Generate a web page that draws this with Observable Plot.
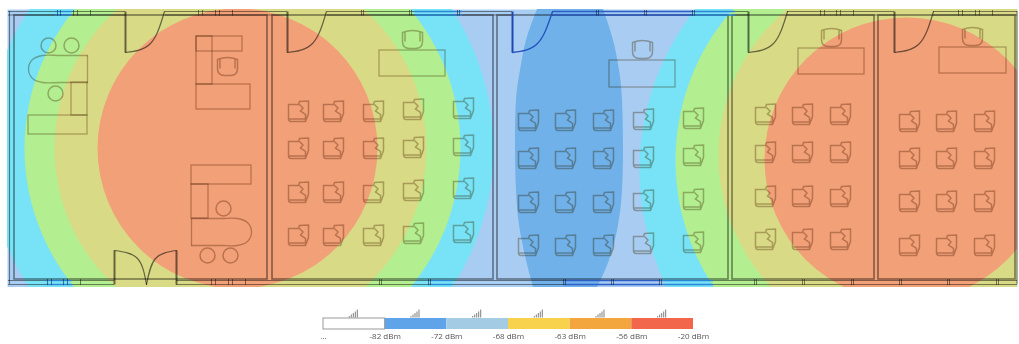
<!DOCTYPE html>
<html>
<head>
<meta charset="utf-8">
<style>
  html, body { margin: 0; padding: 0; background: #fff; overflow: hidden; }
  #chart svg, #legend svg { display: block; filter: blur(0.6px); }
</style>
<script src="https://cdn.jsdelivr.net/npm/d3@7"></script>
<script src="https://cdn.jsdelivr.net/npm/@observablehq/plot@0.6"></script>
</head>
<body>
<div id="chart"></div>
<div id="legend"></div>
<script>
// ---- signal zones (floor-plan units) ----
const zoneColors = {cyan: "#78e2f6", green: "#b3ee90", yellow: "#d9da85", red: "#f2a077"};
const zones = [
  {x: 240, y: 148, r: 253, level: "cyan"},
  {x: 242, y: 148, r: 218, level: "green"},
  {x: 240, y: 148, r: 186, level: "yellow"},
  {x: 237, y: 148, r: 140, level: "red"},
  {x: 900, y: 170, r: 261, level: "cyan"},
  {x: 903, y: 160, r: 228, level: "green"},
  {x: 908, y: 155, r: 190, level: "yellow"},
  {x: 906, y: 159, r: 142, level: "red"}
];
const lensY = [9, 40, 70, 100, 148, 190, 225, 260, 287];
const lensLeft = [537, 526, 520, 516, 515, 516, 519, 526, 533];
const lensRight = [603, 613, 619, 622, 623, 622, 618, 609, 597];

// ---- building ----
const rooms = [[14, 15, 267, 279], [272, 15, 493, 279], [497, 15, 728, 279], [732, 15, 874, 279], [878, 15, 1015, 279]];
const topWall = [[8, 125], [165, 287], [327, 512], [552, 748], [787, 894], [933, 1017]];
const bottomWall = [[8, 114], [176, 1017]];
const blueTop = [[553, 693]];
const blueBottom = [[564, 660]];
const cyanTop = [[55, 72], [415, 462], [693, 735]];
const cyanBottom = [[45, 72], [428, 452], [660, 713]];
const windowTop = [57, 60, 73, 77, 90, 198, 202, 215, 219, 232, 361, 363, 409, 411, 457, 459, 596, 598, 644, 646, 692, 694, 820, 824, 836, 840, 853, 958, 962, 975, 979, 992];
const windowBottom = [47, 51, 63, 67, 80, 211, 215, 228, 232, 245, 379, 381, 428, 430, 563, 565, 611, 613, 659, 661, 754, 756, 802, 804, 851, 853, 899, 901, 947, 949, 996, 998];
const doorLeaves = [
  [125, 11, 125, 52], [287, 11, 287, 52], [748, 11, 748, 52], [894, 11, 894, 52],
  [114, 250, 114, 284], [176, 250, 176, 284]
];
const blueDoorLeaf = [[512, 11, 512, 52]];
const doorArcs = [
  [[125, 52], [150, 43], [164, 11]],
  [[287, 52], [312, 43], [326, 11]],
  [[748, 52], [773, 43], [787, 11]],
  [[894, 52], [919, 43], [933, 11]],
  [[114, 250], [137, 258], [146, 284]],
  [[176, 250], [155, 258], [146, 284]]
];
const blueDoorArc = [[512, 52], [537, 43], [552, 11]];

// ---- furniture ----
const desks = [
  [28, 115, 87, 134], [71, 82, 87, 115],
  [196, 36, 242, 51], [196, 36, 212, 84], [196, 84, 250, 109],
  [191, 165, 251, 184], [191, 184, 208, 218],
  [379, 50, 445, 76], [609, 60, 675, 87], [798, 48, 864, 74], [939, 47, 1006, 73]
];
const roundDesks = [
  [[87, 55], [60, 55], [42, 55], [32, 59], [28, 68.5], [32, 78], [42, 82], [60, 82], [87, 82]],
  [[191, 218], [220, 218], [237, 218], [247, 222], [251, 231.5], [247, 241], [237, 245], [220, 245], [191, 245]]
];
const roundDeskEdges = [[87, 55, 87, 82], [191, 218, 191, 245]];
const roundStools = [[48, 45], [71, 45], [55, 93], [223, 208], [207, 255], [230, 255]];
const deskChairs = [[227, 65], [412, 38], [642, 48], [831, 36], [972, 35]];

const chairColsRoom2 = [
  [298, [111, 148, 192, 235]], [333, [111, 148, 192, 235]], [373, [111, 148, 192, 235]],
  [413, [109, 147, 190, 233]], [463, [108, 145, 188, 232]]
];
const chairColsRoom3 = [
  [528, [120, 158, 202, 245]], [565, [120, 158, 202, 245]], [603, [120, 158, 202, 245]],
  [643, [119, 157, 200, 243]], [693, [118, 155, 199, 242]]
];
const chairColsRoom4 = [[765, [114, 152, 196, 239]], [802, [114, 152, 196, 239]], [840, [114, 152, 196, 239]]];
const chairColsRoom5 = [[909, [121, 158, 201, 245]], [946, [121, 158, 201, 245]], [984, [121, 158, 201, 245]]];
const chairCols = [...chairColsRoom2, ...chairColsRoom3, ...chairColsRoom4, ...chairColsRoom5];
const chairs = chairCols.flatMap(([x, ys]) => ys.map((y) => [x, y]));

// ---- legend ----
const legendColors = ["#ffffff", "#5fa4e9", "#a4cbe4", "#f8d24c", "#f4a63e", "#f2664b"];
const legendLabels = ["...", "-82 dBm", "-72 dBm", "-68 dBm", "-63 dBm", "-56 dBm", "-20 dBm"];

// ---- glyphs ----
const chairSymbol = {draw(c) {
  c.moveTo(-10, -7); c.lineTo(0, -7); c.lineTo(1, -10); c.lineTo(10, -10.5); c.lineTo(10, 2); c.lineTo(7, 10);
  c.lineTo(-8, 10); c.quadraticCurveTo(-10, 9.5, -10, 7); c.closePath();
  c.moveTo(1, -7); c.lineTo(4.5, -3.5); c.lineTo(2, -0.5); c.lineTo(7, 3); c.lineTo(7, 10);
  c.moveTo(-10, 7.5); c.lineTo(7, 7.5);
}};
const deskChairSymbol = {draw(c) {
  c.moveTo(-10, -6); c.quadraticCurveTo(0, -10, 10, -6); c.lineTo(10, 3);
  c.quadraticCurveTo(10, 10, 3, 10); c.lineTo(-3, 10); c.quadraticCurveTo(-10, 10, -10, 3); c.closePath();
  c.moveTo(-7.5, -6); c.lineTo(-7.5, 3); c.moveTo(7.5, -6); c.lineTo(7.5, 3);
}};
const signalSymbol = {draw(c) {
  [[-5, 1.5], [-3, 3], [-1, 4.5], [1, 6], [3, 8]].forEach(([x, h]) => {
    c.moveTo(x, 4); c.lineTo(x, 4 - h);
  });
}};

const wallInk = "#8c8c8c";
const doorInk = "#757575";
const furnitureInk = "#c4b6a6";
const ink = {mixBlendMode: "multiply", fill: "none"};
const wallRules = (rows, level, stroke, strokeWidth, extra = {}) =>
  Plot.ruleY(rows, {y: () => level, x1: "0", x2: "1", fill: "none", stroke, strokeWidth, ...extra});

const plan = Plot.plot({
  width: 1019, height: 287,
  marginLeft: 7, marginRight: 2, marginTop: 9, marginBottom: 0,
  x: {domain: [7, 1017], range: [7, 1017], axis: null},
  y: {domain: [9, 287], range: [9, 287], axis: null},
  style: {background: "transparent"},
  marks: [
    Plot.frame({fill: "#a9cdf2", stroke: "none"}),
    Plot.areaX(lensY, {
      y: (d) => d,
      x1: (d, i) => lensLeft[i],
      x2: (d, i) => lensRight[i],
      fill: "#70b1e9",
      curve: "natural"
    }),
    ...zones.map((z) => Plot.dot([z], {x: "x", y: "y", r: z.r, fill: zoneColors[z.level], stroke: "none", clip: true})),

    // walls
    Plot.rect(rooms, {x1: "0", y1: "1", x2: "2", y2: "3", ...ink, stroke: wallInk, strokeWidth: 1.6}),
    ...[11, 14.5].map((y) => wallRules(topWall, y, wallInk, 1.2, {mixBlendMode: "multiply"})),
    ...[280, 284].map((y) => wallRules(bottomWall, y, wallInk, 1.2, {mixBlendMode: "multiply"})),
    Plot.ruleX([9, 1016.5], {y1: 11, y2: 284, ...ink, stroke: wallInk, strokeWidth: 1.1}),
    ...[11, 14.5].map((y) => wallRules(cyanTop, y, "#2c86d6", 1.3)),
    ...[280, 284].map((y) => wallRules(cyanBottom, y, "#2c86d6", 1.3)),
    ...[11, 14.5].map((y) => wallRules(blueTop, y, "#2e5fc8", 1.6)),
    ...[280, 284].map((y) => wallRules(blueBottom, y, "#2e5fc8", 1.6)),
    Plot.ruleX(windowTop, {y1: 10, y2: 15.5, ...ink, stroke: wallInk, strokeWidth: 1}),
    Plot.ruleX(windowBottom, {y1: 279, y2: 285, ...ink, stroke: wallInk, strokeWidth: 1}),
    Plot.link(doorLeaves, {x1: "0", y1: "1", x2: "2", y2: "3", ...ink, stroke: doorInk, strokeWidth: 2}),
    Plot.link(blueDoorLeaf, {x1: "0", y1: "1", x2: "2", y2: "3", stroke: "#1c46b4", strokeWidth: 2}),
    ...doorArcs.map((arc) => Plot.line(arc, {x: "0", y: "1", ...ink, stroke: doorInk, strokeWidth: 1.2, curve: "natural"})),
    Plot.line(blueDoorArc, {x: "0", y: "1", fill: "none", stroke: "#2450bd", strokeWidth: 1.3, curve: "natural"}),

    // furniture
    Plot.rect(desks, {x1: "0", y1: "1", x2: "2", y2: "3", ...ink, stroke: furnitureInk, strokeWidth: 1.3}),
    ...roundDesks.map((d) => Plot.line(d, {x: "0", y: "1", ...ink, stroke: furnitureInk, strokeWidth: 1.3, curve: "catmull-rom"})),
    Plot.link(roundDeskEdges, {x1: "0", y1: "1", x2: "2", y2: "3", ...ink, stroke: furnitureInk, strokeWidth: 1.3}),
    Plot.dot(roundStools, {x: "0", y: "1", r: 7.5, ...ink, stroke: furnitureInk, strokeWidth: 1.5}),
    Plot.dot(deskChairs, {x: "0", y: "1", symbol: deskChairSymbol, ...ink, stroke: furnitureInk, strokeWidth: 1.5}),
    Plot.dot(chairs, {x: "0", y: "1", symbol: chairSymbol, ...ink, stroke: furnitureInk, strokeWidth: 1.5})
  ]
});

const idx = d3.range(legendColors.length);
const legend = Plot.plot({
  width: 1019, height: 57,
  marginLeft: 323, marginRight: 326, marginTop: 31, marginBottom: 15,
  x: {domain: [0, 6], axis: null},
  color: {type: "identity"},
  style: {background: "transparent"},
  marks: [
    Plot.barX(idx, {x1: (d) => d, x2: (d) => d + 1, fill: (d) => legendColors[d], inset: 0}),
    Plot.barX([0], {x1: (d) => d, x2: (d) => d + 1, fill: "none", stroke: "#999", strokeWidth: 1}),
    Plot.dot(idx, {x: (d) => d + 0.5, frameAnchor: "top", dy: -5, symbol: signalSymbol, fill: "none", stroke: "#8a8a8a", strokeWidth: 1.1}),
    Plot.text(legendLabels, {
      x: (d, i) => i,
      frameAnchor: "bottom",
      dy: 9,
      text: (d) => d,
      fontSize: 8,
      fontFamily: "Open Sans",
      fill: "#555"
    })
  ]
});

document.getElementById("chart").append(plan);
document.getElementById("legend").append(legend);
</script>
</body>
</html>
